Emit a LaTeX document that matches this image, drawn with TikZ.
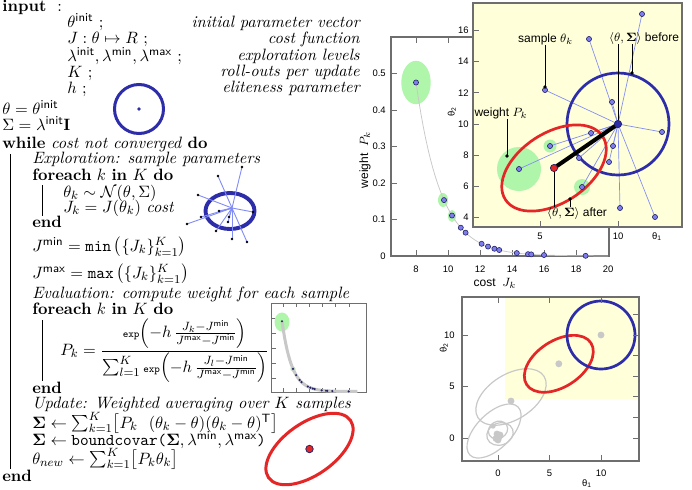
\documentclass[tikz,border=0pt]{standalone}
\usepackage{amsmath,amssymb,bm}
\usepackage{fontspec}
\newfontfamily\plotfont{Liberation Sans}
\usetikzlibrary{calc}
\definecolor{cblue}{RGB}{45,45,170}
\definecolor{cred}{RGB}{228,38,38}
\definecolor{cpt}{RGB}{125,125,238}
\definecolor{cptd}{RGB}{35,35,100}
\definecolor{cline}{RGB}{130,140,245}
\definecolor{cgreen}{RGB}{175,245,170}
\definecolor{cyel}{RGB}{255,255,218}
\definecolor{cgray}{RGB}{200,200,200}
\definecolor{cframe}{RGB}{110,110,110}
\newcommand{\ms}[1]{\mathsf{#1}}
\begin{document}
\begin{tikzpicture}[x=0.6667pt,y=-0.6667pt,
  alg/.style={anchor=base west,inner sep=0pt,font=\fontsize{10.95}{13}\selectfont},
  cmt/.style={anchor=base east,inner sep=0pt,font=\fontsize{10.95}{13}\selectfont\itshape},
  algbar/.style={line width=0.6pt},
  tl/.style={inner sep=0pt,font=\plotfont\fontsize{6.3}{7}\selectfont},
  lab/.style={inner sep=0pt,font=\plotfont\fontsize{8}{9}\selectfont},
  frame/.style={draw=cframe,line width=0.7pt},
  tk/.style={draw=cframe,line width=0.6pt},
  spt/.style={circle,fill=cpt,draw=cptd,line width=0.4pt,inner sep=0pt,minimum size=3.4pt},
  bigdot/.style={circle,draw=cptd,line width=0.5pt,inner sep=0pt,minimum size=4.8pt},
  tinydot/.style={circle,fill=black,inner sep=0pt,minimum size=1.8pt},
  slink/.style={draw=cline,line width=0.45pt},
  ptr/.style={draw=black,line width=0.65pt},
  ptrdot/.style={circle,fill=black,inner sep=0pt,minimum size=2.6pt},
  halo/.style={fill=cgreen},
  gell/.style={draw=cgray,line width=0.8pt},
  gdot/.style={circle,fill=cgray,inner sep=0pt,minimum size=4.6pt},
  ]
\fill[white] (0,0) rectangle (692,489);
\useasboundingbox (0,0) rectangle (692,489);

% ================= algorithm =================
\node[alg] (in) at (2,11) {\textbf{input}};
\node[alg] (inc) at (57,11) {:};
\node[alg] (i1) at (67,27) {$\theta^{\ms{init}}$ ;};
\node[cmt] (c1) at (360,27) {initial parameter vector};
\node[alg] (i2) at (67,43) {$J:\theta\mapsto R$ ;};
\node[cmt] (c2) at (360,43) {cost function};
\node[alg] (i3) at (67,61) {$\lambda^{\ms{init}},\lambda^{\ms{min}},\lambda^{\ms{max}}$};
\node[alg] (i3s) at (177,61) {;};
\node[cmt] (c3) at (360,60) {exploration levels};
\node[alg] (i4) at (67,77) {$K$ ;};
\node[cmt] (c4) at (360,76) {roll-outs per update};
\node[alg] (i5) at (67,93) {$h$ ;};
\node[cmt] (c5) at (360,92) {eliteness parameter};
\node[alg] (a1) at (2,114) {$\theta=\theta^{\ms{init}}$};
\node[alg] (a2) at (2,130) {$\Sigma=\lambda^{\ms{init}}\mathbf{I}$};
\node[alg] (w) at (2,148) {\textbf{while} \textit{cost not converged} \textbf{do}};
\node[alg] (e1) at (32,163) {\textit{Exploration: sample parameters}};
\node[alg] (f1) at (32,180) {\textbf{foreach} $k$ \textbf{in} $K$ \textbf{do}};
\node[alg] (s1) at (63,197) {$\theta_k\sim\mathcal{N}(\theta,\Sigma)$};
\node[alg] (s2) at (63,212) {$J_k=J(\theta_k)$ \textit{cost}};
\node[alg] (en1) at (32,227) {\textbf{end}};
\node[alg] (jmin) at (32,251) {$J^{\ms{min}}=\texttt{min}\left(\{J_k\}_{k=1}^K\right)$};
\node[alg] (jmax) at (32,278) {$J^{\ms{max}}=\texttt{max}\left(\{J_k\}_{k=1}^K\right)$};
\node[alg] (ev) at (32,298) {\textit{Evaluation: compute weight for each sample}};
\node[alg] (f2) at (32,314) {\textbf{foreach} $k$ \textbf{in} $K$ \textbf{do}};
\node[alg] (pk) at (60,355) {$P_k=\dfrac{\texttt{\scriptsize exp}\!\left(-h\,\frac{J_k-J^{\ms{min}}}{J^{\ms{max}}-J^{\ms{min}}}\right)}{\sum_{l=1}^K\texttt{\scriptsize exp}\!\left(-h\,\frac{J_l-J^{\ms{min}}}{J^{\ms{max}}-J^{\ms{min}}}\right)}$};
\node[alg] (en2) at (32,393) {\textbf{end}};
\node[alg] (up) at (32,408) {\textit{Update: Weighted averaging over $K$ samples}};
\node[alg] (u1) at (32,428) {$\bm{\Sigma}\leftarrow\sum_{k=1}^K\bigl[P_k\ \ (\theta_k-\theta)(\theta_k-\theta)^{\ms{T}}\bigr]$};
\node[alg] (u2) at (32,445) {$\bm{\Sigma}\leftarrow\texttt{boundcovar(}\bm{\Sigma},\lambda^{\ms{min}},\lambda^{\ms{max}}\texttt{)}$};
\node[alg] (u3) at (32,464) {$\theta_{new}\leftarrow\sum_{k=1}^K\bigl[P_k\theta_k\bigr]$};
\node[alg] (en3) at (2,481) {\textbf{end}};
\draw[algbar] (10,154) -- (10,469);
\draw[algbar] (42,185) -- (42,216);
\draw[algbar] (42,320) -- (42,381);

% ---- mini figure: initial circle
\draw[cblue,line width=2pt] (139,109) circle [radius=24.5];
\node[circle,fill=cblue,inner sep=0pt,minimum size=2.6pt] (d0) at (139,109) {};

% ---- mini figure: exploration
\draw[cblue,line width=2.6pt] (230,211) ellipse [x radius=24.5,y radius=18];
\coordinate (E0) at (232,208);
\foreach \px/\py [count=\i] in {242/167,218/176,198/195,253/212,201/217,187/224,216/231,232/239,247/242,229/217,228/222,219/211}{
  \coordinate (e\i) at (\px,\py);
  \draw[slink,line width=0.6pt] (E0) -- (e\i);
}
\foreach \i in {1,...,12}{ \node[tinydot] (ed\i) at (e\i) {}; }

% ---- mini figure: weight plot
\draw[frame,line width=0.5pt] (271.5,303) rectangle (366,392);
\foreach \xx in {283,296,309,322,335,349}{ \draw[tk,line width=0.4pt] (\xx,392) -- (\xx,388); \draw[tk,line width=0.4pt] (\xx,303) -- (\xx,307); }
\foreach \yy in {318,333,348,363,378}{ \draw[tk,line width=0.4pt] (271.5,\yy) -- (275.5,\yy); }
\fill[halo] (282,322) ellipse [x radius=7.5,y radius=9.5];
\fill[halo] (293,369) circle [radius=2.6];
\draw[cgray,line width=2pt] plot[domain=8:20,samples=60] ({282+6.29*(\x-8)},{391.5-148*0.475*exp(-(\x-8)/1.545)});
\foreach \c [count=\i] in {8,9.75,10.25,10.8,11.1,12.1,12.5,12.9,13.2,14.3,15,15.2,16,18.6}{
  \node[circle,fill=cptd,inner sep=0pt,minimum size=1.6pt] (wp\i) at ({282+6.29*(\c-8)},{391.5-148*0.475*exp(-(\c-8)/1.545)}) {};
}

% ---- mini figure: red ellipse
\draw[cred,line width=2pt,rotate around={35:(309.5,449)}] (309.5,449) ellipse [x radius=50,y radius=26];
\node[bigdot,fill=cred,minimum size=5pt] (rd0) at (309.5,449) {};

% ================= middle plot =================
\draw[frame] (391,37) rectangle (609,256);
\foreach \v in {0,...,6}{
  \draw[tk] ({416+32*\v},256) -- ({416+32*\v},250);
  \draw[tk] ({416+32*\v},37) -- ({416+32*\v},43);
}
\foreach \k in {1,...,5}{ \draw[tk] (391,{256-36.5*\k}) -- (397,{256-36.5*\k}); }
\foreach \v/\t in {0/8,1/10,2/12,3/14,4/16,5/18,6/20}{ \node[tl,anchor=base] (mx\v) at ({416+32*\v},272) {\t}; }
\foreach \k/\t in {0/0,1/0.1,2/0.2,3/0.3,4/0.4,5/0.5}{ \node[tl,anchor=east] (my\k) at (386,{256-36.5*\k}) {\t}; }
\node[lab,anchor=base] (mxl) at (495,286) {cost\ \ $J_k$};
\node[lab,rotate=90] (myl) at (365,160) {weight\ \ $P_k$};
\fill[halo] (416,82.5) ellipse [x radius=14.7,y radius=21.7];
\fill[halo] (443,200) ellipse [x radius=5,y radius=7];
\fill[halo] (452,216) ellipse [x radius=4,y radius=6];
\draw[cgray,line width=0.5pt] plot[domain=8:20,samples=80] ({288+16*\x},{256-173.5*exp(-(\x-8)/1.545)});
\foreach \c [count=\i] in {8,9.75,10.25,10.8,11.1,12.1,12.5,12.9,13.2,14.3,15,15.2,16,18.6}{
  \node[spt] (mp\i) at ({288+16*\c},{256-173.5*exp(-(\c-8)/1.545)}) {};
}

% ================= inset plot =================
\filldraw[fill=cyel,draw=cframe,line width=0.7pt] (473,3) rectangle (682,227);
\foreach \v in {4,6,...,16}{
  \draw[tk] (473,{280-15.6*\v}) -- (479,{280-15.6*\v});
  \node[tl,anchor=east] (iy\v) at (469,{280-15.6*\v}) {\v};
}
\draw[tk] (540,227) -- (540,221);
\draw[tk] (618,227) -- (618,221);
\node[tl,anchor=base] (ix5) at (540,239) {5};
\node[tl,anchor=base] (ix10) at (618,239) {10};
\node[tl,anchor=base] (ixl) at (657,239) {θ\textsubscript{1}};
\node[tl,rotate=90] (iyl) at (452,112) {θ\textsubscript{2}};

\coordinate (Cc) at (618,124);
\coordinate (Rc) at (554,168);
\foreach \px/\py [count=\i] in {642/14,589/39,545/90,612/102,662/132,591/133,550/146,613/146,579/158,609/162,519/169,582/187,620/208,655/217}{
  \coordinate (s\i) at (\px,\py);
}
\fill[halo] (s11) circle [radius=22];
\fill[halo] (s7) circle [radius=6.5];
\fill[halo] (s12) circle [radius=8];
\foreach \i in {1,...,14}{ \draw[slink] (s\i) -- (Cc); }
\draw[cblue,line width=1.8pt] (Cc) circle [radius=51];
\draw[cred,line width=1.8pt,rotate around={33:(Rc)}] (Rc) ellipse [x radius=58,y radius=35];
\draw[line width=2.7pt] (Cc) -- (Rc);

% labels and pointers
\node[lab] (lsample) at (545.5,39) {sample $\theta_k$};
\node[lab] (lweight) at (501,113) {weight $P_k$};
\node[lab] (lbefore) at (644,38) {$\langle\theta,\bm{\Sigma}\rangle$ before};
\node[lab] (lafter) at (577,213) {$\langle\theta,\bm{\Sigma}\rangle$ after};
\coordinate (ps) at (545,87);
\coordinate (pw) at (507,156);
\coordinate (pb) at (632,73);
\coordinate (pa) at (570,199);
\draw[ptr] (lsample.south -| ps) -- (ps);
\draw[ptr] (lweight.south -| pw) -- (pw);
\draw[ptr] (lbefore.south -| Cc) -- (Cc);
\draw[ptr] (lbefore.south -| pb) -- (pb);
\draw[ptr] (Rc) -- (lafter.north -| Rc);
\draw[ptr] (pa) -- (lafter.north -| pa);
\foreach \i in {1,...,14}{ \node[spt] (n\i) at (s\i) {}; }
\node[ptrdot] (dps) at (ps) {};
\node[ptrdot] (dpw) at (pw) {};
\node[ptrdot] (dpb) at (pb) {};
\node[ptrdot] (dpa) at (pa) {};
\node[bigdot,fill=cblue] (C) at (Cc) {};
\node[bigdot,fill=cred] (R) at (Rc) {};

% ================= bottom-right plot =================
\fill[cyel] (505,297) rectangle (639,399);
\draw[gell,rotate around={32:(511,397)}] (511,397) ellipse [x radius=39,y radius=22.7];
\draw[gell,rotate around={45:(494,431)}] (494,431) ellipse [x radius=34,y radius=17.5];
\draw[gell,rotate around={20:(500,434)}] (500,434) ellipse [x radius=13.5,y radius=11];
\draw[gell,rotate around={30:(498,430)}] (498,430) ellipse [x radius=10,y radius=8.5];
\node[gdot] (g1) at (511,401) {};
\node[gdot,minimum size=3.6pt] (g2) at (493,426) {};
\node[gdot] (g3) at (497,434) {};
\node[gdot] (g4) at (499,437) {};
\node[gdot] (g5) at (496,438.5) {};
\node[gdot] (g6) at (500,435) {};
\node[gdot] (g7) at (498,440) {};
\draw[cred,line width=1.8pt,rotate around={33:(558.8,363.8)}] (558.8,363.8) ellipse [x radius=38.3,y radius=23.1];
\draw[cblue,line width=1.8pt] (601,335) circle [radius=34];
\node[gdot] (g8) at (558.8,363.8) {};
\node[gdot] (g9) at (601,335) {};
\draw[frame] (462,297) rectangle (639,461);
\foreach \xx/\t in {498/0,549.5/5,601/10}{
  \draw[tk] (\xx,461) -- (\xx,455);
  \draw[tk] (\xx,297) -- (\xx,303);
  \node[tl,anchor=base] (bx\t) at (\xx,476) {\t};
}
\foreach \yy/\t in {438/0,386.5/5,335/10}{
  \draw[tk] (462,\yy) -- (468,\yy);
  \node[tl,anchor=east] (by\t) at (455,\yy) {\t};
}
\foreach \yy in {438,417.4,396.8,376.2,355.6,335,314.4}{ \draw[tk] (639,\yy) -- (633,\yy); }
\node[tl,anchor=base] (bxl) at (587,486) {θ\textsubscript{1}};
\node[tl,rotate=90] (byl) at (444,348) {θ\textsubscript{2}};
\end{tikzpicture}
\end{document}
